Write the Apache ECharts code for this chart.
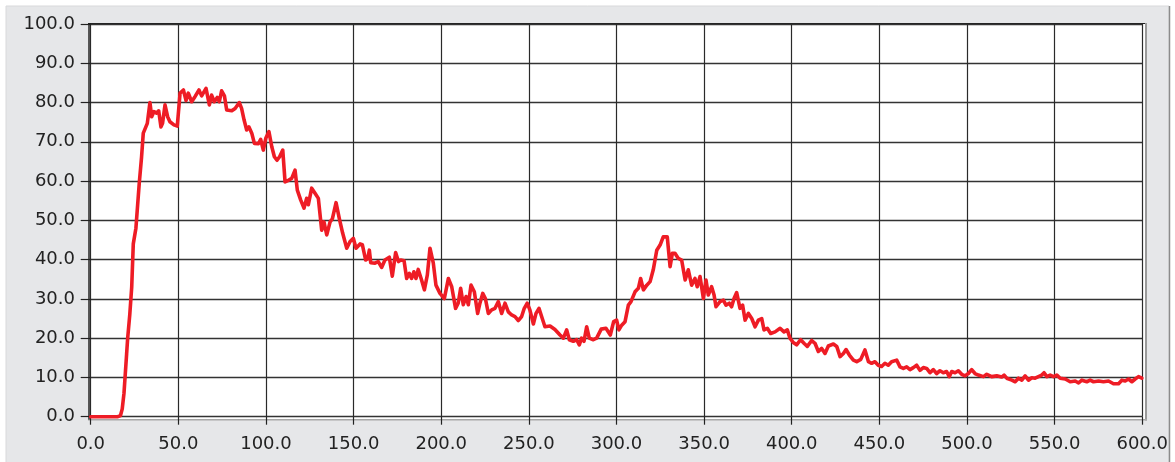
<!DOCTYPE html>
<html>
<head>
<meta charset="utf-8">
<script src="https://cdn.jsdelivr.net/npm/echarts@6/dist/echarts.min.js"></script>
<style>
html,body{margin:0;padding:0;background:#fff;}
#chart{width:1175px;height:462px;}
</style>
</head>
<body>
<div id="chart"></div>
<script>
// Sampled readings of the curve (time, value)
var xValues = [0,15.5,17,18,19,19.6,20.5,21.1,22.3,23.4,24.3,25.8,27.7,29,30,32.3,33.8,34.8,36.1,37.6,38.8,40.1,41,42.4,43.9,45.2,47.5,49.4,51,52.9,54.4,55.7,57.6,59.5,61.8,63.3,65.8,67.7,69,70.5,72.2,73.4,74.7,76.3,77.6,80.5,82.4,84.8,86.1,87.5,89,90.3,91.9,93.4,95.7,97,98.5,99.9,101.7,103.3,104.8,106.3,107.8,109.6,110.9,112.8,114.7,116.6,117.9,119.8,121.7,123.2,124.2,126.1,128,129.9,131.8,133.1,134.7,136.6,137.9,140,141.9,143.8,146.1,148,149.9,151.4,153.7,155,156.9,158.1,159,159.8,162.2,164.1,166,167.9,170.4,172.1,174,175.6,176.9,178.8,180.3,181.8,183.1,184.4,185.6,186.9,188.8,190.4,192.1,193.6,195.5,197,199.3,201.8,204.1,206,208.2,209.7,211.1,212.6,214.2,215.5,217,218.9,220.8,222.1,223.7,225.2,226.9,228.8,230.7,232.6,234.5,236.4,238.3,240.2,242.1,244,245.9,247.4,249.1,250.6,252.6,254.1,255.8,257.3,259.2,262.1,264.9,267.8,269.7,271.6,273.1,275.4,277.3,278.8,280.1,281.5,283,284.5,286.8,288.7,291.3,294,296.5,298.4,300.1,301.4,303,304.9,306.8,308.3,310.6,312.5,313.8,315.4,317.3,319.2,321,323,324.9,326.7,329,330.6,331.9,333.4,335.3,337.2,339.2,341,342.9,344.8,346.1,347.7,349.6,351.1,352.4,354.3,355.7,356.8,359.1,361,362.5,364.4,365.7,367.1,368.6,370.5,372,373.4,375.3,377.2,379.1,381,382.9,384.2,386.1,388,390.5,393.4,395.6,397.5,399,400.9,402.8,405.1,407,408.9,411.4,413.3,415.2,417.1,419,420.9,423.8,425.7,427.6,429.5,431,432.9,435.2,437.1,439.4,441.8,443.8,445.6,447.5,449.4,451.3,453.2,455.1,457,458,459.9,461.8,463.7,465.6,467.5,469.4,471.3,473.2,475.1,477,478.9,480.8,482.7,484.6,486.5,488.4,489.9,491.3,493.2,495.1,497,498.9,500.8,502.7,504.6,506.5,509.4,511.3,514.1,517,519.8,521.2,522.7,525.6,527.5,529.4,531.3,533.2,535.1,537,538.9,540.8,542.7,544,545.6,547.5,549.4,551.3,553.2,556.1,558.9,561.8,563.7,565.6,568.4,570.3,572.2,575.1,577.9,580.8,583.6,586.5,588.4,590.3,592.2,594.1,596,597.9,599.8];
var yValues = [0,0,0.3,2,6,10,16,20,26,33,44,48,59.4,66,72.2,74.7,80,76.4,77.7,77.3,77.9,73.8,74.7,79.4,76.4,75.1,74.3,74,82.4,83.2,80.5,82.4,80.2,81.5,83.2,81.7,83.6,79.4,81.9,80.2,81.3,80.2,83,81.7,78.1,77.9,78.5,80,78.5,75.6,73,73.8,72.2,69.6,69.5,70.6,67.9,70.9,72.6,68.8,66.2,65.3,66.2,67.9,59.8,60.2,60.7,62.8,57.7,55.2,53.1,55.6,54,58.2,56.9,55.6,47.5,49.6,46.3,49.6,50.4,54.5,50.4,46.7,42.9,44.6,45.4,42.9,44,43.8,39.9,40.3,42.4,39.2,39.1,39.5,38,39.9,40.6,35.8,41.8,39.5,39.9,39.7,35.2,36.5,35.2,36.9,35.2,37.5,34.8,32.3,36.1,42.9,39.1,33.5,31.4,30.1,35.2,33.1,27.6,28.9,32.7,28.5,30.6,28.5,33.5,31.8,26.3,28.9,31.4,30.1,26.3,27.2,27.6,29.3,26.3,28.9,26.7,25.9,25.5,24.5,25.5,27.6,28.9,27.2,23.6,26.3,27.6,25.5,22.9,23.1,22.2,20.8,20,22.1,19.6,19.2,19.6,18.3,20,19.2,22.9,20,19.6,20,22.3,22.5,20.8,24.2,24.6,22.1,23.3,24.2,28.4,29.3,31.8,32.7,35.2,32.3,33.5,34.4,37.4,42.4,43.7,45.8,45.8,38.2,41.6,41.6,40.3,39.9,34.8,37.4,33.5,35.2,33.1,35.7,30.1,34.8,31,33.1,31,28,29.3,29.7,28.4,28.9,28,30.1,31.6,27.6,28.4,24.6,26.3,25,22.9,24.6,25,22.1,22.5,21.2,21.6,22.5,21.6,22.1,20,18.9,18.3,19.6,18.7,17.9,19.4,18.7,16.6,17.4,16.1,18,18.5,17.9,15.3,16.1,17.1,15.7,14.4,14,14.6,17,14,13.6,14,13.1,12.8,13.6,13.1,14,13.6,14.4,12.7,12.3,12.7,12,12.5,13.1,11.8,12.5,12.3,11.2,12,11,11.7,11.2,11.5,10.2,11.5,11.2,11.7,10.8,10.4,11,12,11,10.6,10.2,10.8,10.2,10.4,10.1,10.6,9.8,9.3,8.9,9.8,9.3,10.4,9.3,9.9,9.8,10.2,10.6,11.2,10.2,10.6,10.2,10.6,9.8,9.6,8.9,9.1,8.6,9.3,8.9,9.3,8.9,9.1,8.9,9.1,8.4,8.4,9.3,9.1,9.6,8.9,9.6,10.2,9.8];
var yTicks = {min: 0, max: 100, step: 10};
var xTicks = {min: 0, max: 600, step: 50};

var seriesData = xValues.map(function (x, i) { return [x, yValues[i]]; });

var chart = echarts.init(document.getElementById('chart'), null, {renderer: 'canvas'});
var font = 'DejaVu Sans';
var option = {
  backgroundColor: '#ffffff',
  animation: false,
  graphic: [
    {type: 'rect', z: -20, silent: true, shape: {x: 6, y: 6, width: 1163, height: 460}, style: {fill: '#e6e7e9', stroke: '#d8d9db', lineWidth: 1}},
    {type: 'line', z: -19, silent: true, shape: {x1: 1169.5, y1: 6, x2: 1169.5, y2: 462}, style: {stroke: '#8c8c8c', lineWidth: 1.5}},
    {type: 'rect', z: -18, silent: true, shape: {x: 88.5, y: 23.5, width: 1057, height: 396}, style: {fill: '#ffffff'}},
    {type: 'line', z: -17, silent: true, shape: {x1: 1146, y1: 23, x2: 1146, y2: 420.5}, style: {stroke: '#9a9a9a', lineWidth: 2}},
    {type: 'line', z: -17, silent: true, shape: {x1: 88, y1: 419.8, x2: 1147, y2: 419.8}, style: {stroke: '#a8a8a8', lineWidth: 1.5}},
    {type: 'line', z: -16, silent: true, shape: {x1: 88, y1: 23.5, x2: 1145, y2: 23.5}, style: {stroke: '#222222', lineWidth: 1.2}},
    {type: 'line', z: -16, silent: true, shape: {x1: 89, y1: 23, x2: 89, y2: 419.5}, style: {stroke: '#222222', lineWidth: 1.5}}
  ],
  grid: {left: 90.7, right: 32.8, top: 24, bottom: 45.3, containLabel: false},
  xAxis: {
    type: 'value', min: xTicks.min, max: xTicks.max, interval: xTicks.step,
    offset: 6,
    axisLine: {show: false},
    axisTick: {show: true, length: 8, lineStyle: {color: '#222', width: 1.2}},
    axisLabel: {margin: 13, color: '#222', fontFamily: font, fontSize: 18,
      formatter: function (v) { return v.toFixed(1); }},
    splitLine: {show: true, lineStyle: {color: '#2a2a2a', width: 1.2}}
  },
  yAxis: {
    type: 'value', min: yTicks.min, max: yTicks.max, interval: yTicks.step,
    offset: 3.7,
    axisLine: {show: false},
    axisTick: {show: true, length: 10, lineStyle: {color: '#222', width: 1.2}},
    axisLabel: {margin: 12, color: '#222', fontFamily: font, fontSize: 18,
      formatter: function (v) { return v.toFixed(1); }},
    splitLine: {show: true, lineStyle: {color: '#333', width: 1.3}}
  },
  series: [{
    type: 'line', data: seriesData, showSymbol: false, symbol: 'none',
    smooth: false, clip: false,
    lineStyle: {color: '#ee1c25', width: 3.6, join: 'round', cap: 'round'},
    z: 5
  }]
};
chart.setOption(option);
</script>
</body>
</html>
